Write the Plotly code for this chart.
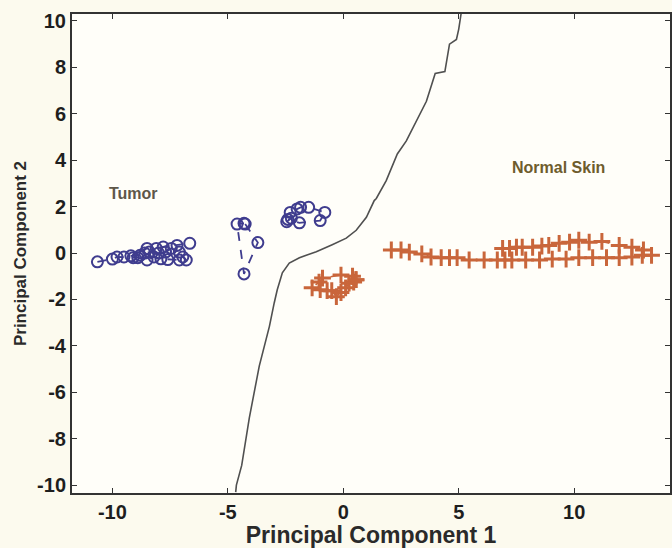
import plotly.graph_objects as go

# ---- data ----
tumor_x = [-10.65, -10.0, -9.8, -9.5, -9.1, -8.9, -8.5, -8.2, -7.9, -7.6, -7.1, -6.8,
           -6.95, -7.1, -7.45, -7.7, -8.0, -8.4, -8.6, -8.8, -9.2, -8.5, -8.1, -7.8, -7.2, -6.65]
tumor_y = [-0.38, -0.26, -0.17, -0.17, -0.2, -0.2, -0.3, -0.17, -0.25, -0.28, -0.3, -0.3,
           -0.17, 0.04, 0.2, 0.04, 0.0, 0.04, 0.0, -0.1, -0.12, 0.2, 0.2, 0.26, 0.33, 0.42]

mid1_x = [-4.25, -3.7, -4.3, -4.6, -4.3]
mid1_y = [1.25, 0.45, -0.9, 1.25, 1.28]

mid2_x = [-2.45, -2.25, -2.3, -2.0, -1.85, -1.5, -0.8, -1.0, -1.9, -2.4]
mid2_y = [1.35, 1.5, 1.75, 1.9, 1.97, 1.97, 1.75, 1.4, 1.3, 1.45]

orange_mid_x = [0.55, 0.4, -0.1, -0.9, -1.05, -1.35, -1.0, -0.7, -0.5, -0.3, -0.1, 0.1, 0.25, 0.45, 0.55]
orange_mid_y = [-1.15, -1.0, -0.95, -1.08, -1.25, -1.5, -1.58, -1.62, -1.62, -1.88, -1.7, -1.5, -1.3, -1.25, -1.15]

normal_x = [2.08, 2.5, 2.86, 3.4, 3.8, 4.24, 4.6, 4.93, 5.45, 6.1, 6.67, 7.0, 7.3, 7.9, 8.5,
            9.05, 9.65, 10.2, 10.8, 11.4, 11.95, 12.5, 12.95, 13.35,
            13.0, 12.5, 11.95, 11.2, 10.65, 10.2, 9.8, 9.35, 8.9, 8.6, 8.2, 7.75, 7.5, 7.2, 6.9]
normal_y = [0.13, 0.13, 0.04, -0.04, -0.17, -0.2, -0.2, -0.2, -0.3, -0.3, -0.3, -0.3, -0.3, -0.3, -0.3,
            -0.26, -0.26, -0.2, -0.2, -0.2, -0.2, -0.17, -0.1, -0.1,
            0.13, 0.25, 0.33, 0.5, 0.47, 0.55, 0.47, 0.42, 0.33, 0.3, 0.25, 0.25, 0.25, 0.2, 0.2]

boundary_y = [-10.3, -10.0, -9.15, -7.1, -4.87, -3.16, -2.14, -1.58, -0.85, -0.43, -0.2, 0.06, 0.36,
              0.64, 0.98, 1.54, 2.26, 2.35, 3.12, 4.27, 4.83, 5.98, 6.54, 7.74, 7.82, 9.0, 9.2, 9.65, 10.3]
boundary_x = [-4.66, -4.63, -4.4, -4.07, -3.64, -3.2, -2.99, -2.86, -2.64, -2.34, -1.9, -1.17, -0.48,
              0.13, 0.56, 1.0, 1.34, 1.43, 1.86, 2.34, 2.73, 3.3, 3.6, 3.98, 4.4, 4.6, 4.9, 5.0, 5.1]

labels = ["Tumor", "Normal Skin"]
label_x = [-9.1, 9.3]
label_y = [2.55, 3.7]

x_ticks = [-10, -5, 0, 5, 10]
y_ticks = [-10, -8, -6, -4, -2, 0, 2, 4, 6, 8, 10]

BLUE = "#3f3c8e"
ORANGE = "#c9663b"

fig = go.Figure()

fig.add_trace(go.Scatter(x=boundary_x, y=boundary_y, mode="lines",
                         line=dict(color="#505050", width=1.6), hoverinfo="skip"))

blue_marker = dict(symbol="circle-open", size=11, color=BLUE, line=dict(width=2, color=BLUE))
for xs, ys in [(tumor_x, tumor_y), (mid1_x, mid1_y), (mid2_x, mid2_y)]:
    fig.add_trace(go.Scatter(x=xs, y=ys, mode="lines+markers",
                             line=dict(color=BLUE, width=1.8, dash="dash"),
                             marker=blue_marker))

orange_marker = dict(symbol="cross-thin-open", size=12, color=ORANGE, line=dict(width=3, color=ORANGE))
for xs, ys in [(orange_mid_x, orange_mid_y), (normal_x, normal_y)]:
    fig.add_trace(go.Scatter(x=xs, y=ys, mode="lines+markers",
                             line=dict(color=ORANGE, width=1.6, dash="dash"),
                             marker=orange_marker))

label_colors = ["#5e574a", "#6e5c2c"]
for t, lx, ly, c in zip(labels, label_x, label_y, label_colors):
    fig.add_annotation(x=lx, y=ly, text="<b>" + t + "</b>", showarrow=False,
                       font=dict(family="Liberation Sans, Arial", size=16, color=c))

axis_common = dict(showgrid=False, zeroline=False, showline=True, linecolor="#333333",
                   linewidth=2, ticks="inside", ticklen=5, tickcolor="#333333",
                   mirror="ticks",
                   tickfont=dict(family="Liberation Sans, Arial", size=20, color="#1e1e1e",
                                 weight="bold"))

fig.update_layout(
    width=672, height=548,
    margin=dict(l=72, r=0, t=14, b=55),
    paper_bgcolor="#fcfaee",
    plot_bgcolor="#fffef9",
    showlegend=False,
    xaxis=dict(range=[-11.75, 14.15], tickvals=x_ticks,
               ticktext=[str(v) for v in x_ticks],
               title=dict(text="<b>Principal Component 1</b>", standoff=2,
                          font=dict(family="Liberation Sans, Arial", size=23, color="#2a2a2a")),
               **axis_common),
    yaxis=dict(range=[-10.34, 10.3], tickvals=y_ticks,
               ticktext=[str(v) for v in y_ticks],
               title=dict(text="<b>Principal Component 2</b>", standoff=6,
                          font=dict(family="Liberation Sans, Arial", size=17, color="#2a2a2a")),
               **axis_common),
)

fig.write_html("out.html")
